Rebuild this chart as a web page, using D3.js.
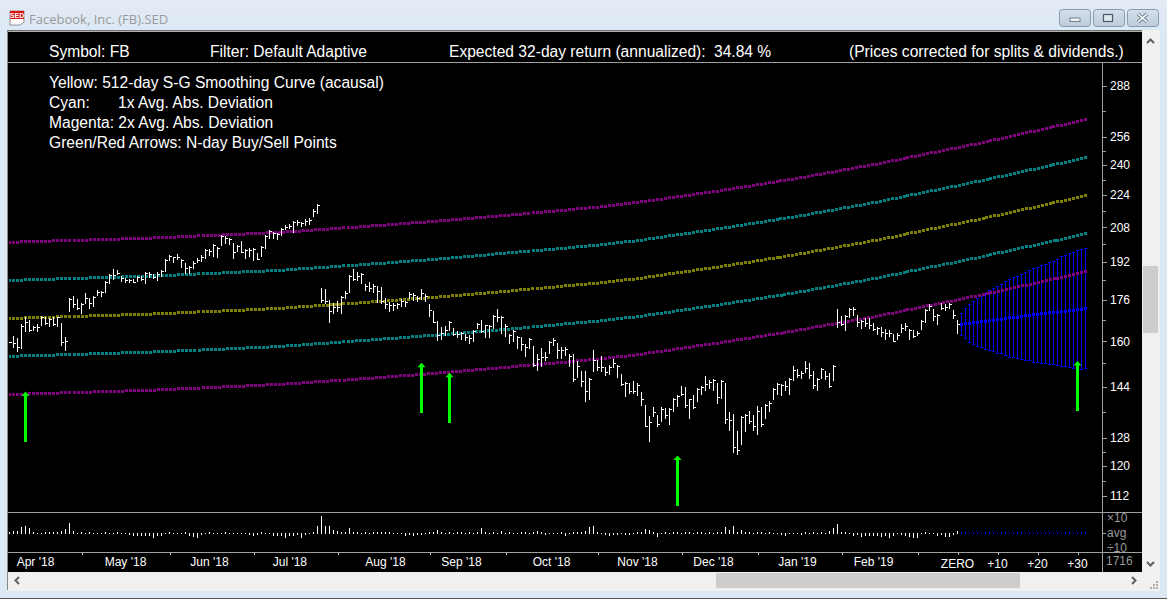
<!DOCTYPE html>
<html><head><meta charset="utf-8">
<script src="https://cdn.jsdelivr.net/npm/d3@7/dist/d3.min.js"></script>
<style>html,body{margin:0;padding:0;background:#dce9f5;overflow:hidden}svg{display:block}text{font-family:"Liberation Sans",Arial,sans-serif}</style>
</head><body><div id="chart"></div>
<script>
const high=[159.8,161.9,161.0,166.4,169.0,168.0,165.8,166.4,169.4,169.0,168.9,169.0,169.3,166.9,161.5,176.9,177.5,176.3,174.6,178.8,176.9,177.5,180.0,179.6,183.8,186.8,188.9,188.4,185.9,185.2,184.8,184.8,186.1,185.8,187.6,187.6,186.8,187.6,188.5,193.4,195.2,194.4,195.6,193.4,191.6,190.3,192.5,193.7,195.2,197.9,197.9,200.2,198.8,204.4,203.9,202.9,200.6,199.7,201.5,197.9,198.3,198.3,196.0,199.2,204.4,206.7,205.8,205.3,207.7,209.1,209.6,211.0,211.5,210.5,212.0,212.5,216.9,219.4,
180.8,180.4,175.9,174.8,175.5,177.6,179.6,186.3,188.9,187.6,187.2,182.5,183.4,182.5,181.7,181.3,176.7,175.1,174.8,174.8,176.3,175.5,179.2,178.8,177.6,180.4,178.4,174.3,171.5,167.6,165.3,165.7,167.6,165.0,163.8,163.4,162.7,162.3,164.2,166.9,168.0,166.1,166.1,169.9,172.3,169.6,166.5,162.7,164.2,161.9,161.5,158.9,161.2,158.2,155.2,157.6,156.1,160.0,161.2,159.3,157.9,157.9,155.2,155.2,152.9,149.4,149.4,147.0,156.8,153.2,154.6,150.8,151.4,153.5,151.4,148.3,145.6,145.3,146.0,145.3,142.4,138.1,134.6,137.4,134.9,
137.5,137.1,137.1,140.3,141.3,144.3,144.0,140.0,141.3,143.6,144.3,147.6,146.3,146.6,145.3,146.3,145.3,135.9,135.3,130.1,134.6,135.3,136.2,135.0,137.8,137.5,138.4,139.4,143.6,145.2,145.0,146.0,147.0,151.1,150.0,149.4,152.9,152.2,149.4,147.0,150.4,149.4,148.7,151.4,
172.3,169.6,169.9,172.7,173.1,169.9,168.0,168.8,168.8,166.9,165.3,165.3,164.6,164.2,162.7,163.1,166.5,166.9,164.6,164.2,163.8,168.0,172.3,174.3,172.3,170.3,174.7,174.3,174.7,171.9,168.0];
const low=[159.5,157.4,156.2,157.3,163.4,163.6,163.9,163.4,165.8,166.1,165.3,165.8,165.3,158.2,156.4,171.3,172.9,172.0,170.4,174.3,172.3,173.1,177.5,177.3,178.9,182.5,184.2,186.4,183.2,182.8,183.0,183.0,183.4,183.8,182.5,185.1,184.6,183.8,185.4,187.6,192.5,191.6,192.9,189.5,186.8,186.9,188.9,191.6,192.0,193.4,194.7,194.3,193.8,199.2,200.2,199.7,193.4,196.5,196.0,193.4,194.3,192.5,192.9,194.3,197.9,202.5,202.5,202.0,203.7,206.7,207.2,205.3,208.6,208.1,208.6,209.1,213.0,214.6,
174.6,174.3,166.9,170.3,171.1,170.3,176.3,178.8,183.8,183.8,182.5,179.6,179.2,178.8,174.7,174.3,172.3,171.1,171.5,172.3,173.1,173.1,176.3,175.5,175.1,175.9,175.1,169.2,166.9,160.0,160.4,161.9,163.8,161.9,161.2,160.4,160.0,158.9,159.7,164.6,163.1,161.2,161.2,164.6,167.2,162.7,161.6,158.9,159.7,157.2,156.4,154.4,157.2,150.6,149.4,150.6,152.9,155.2,158.2,153.6,153.6,154.6,150.6,145.6,147.0,144.0,139.1,139.7,149.0,149.4,149.0,147.7,148.0,150.4,147.0,144.3,140.6,141.6,141.6,140.9,137.8,131.3,126.8,134.3,131.3,
132.8,133.7,131.9,135.9,137.5,141.0,137.1,133.7,136.8,139.1,141.3,142.7,143.3,142.7,138.4,140.0,132.3,130.1,123.7,123.1,126.0,129.8,132.2,130.1,128.8,131.4,133.7,135.9,139.7,141.3,141.0,142.7,141.3,146.0,147.0,146.6,148.7,146.6,143.3,142.7,146.6,146.3,143.6,146.0,
165.1,165.7,163.8,168.8,169.6,165.3,164.6,165.3,164.6,163.8,162.3,161.4,160.4,161.5,159.8,160.4,163.1,163.8,160.4,161.2,161.9,164.2,166.8,171.5,167.6,166.1,171.9,171.6,172.3,168.4,162.7];
const close=[159.6,159.4,158.0,165.7,167.4,164.2,165.3,165.3,169.0,166.7,168.5,166.5,169.0,159.8,160.0,176.4,174.3,172.6,174.3,176.6,174.6,177.1,179.3,179.2,183.3,186.4,186.4,187.4,184.9,184.2,184.2,183.5,185.4,184.8,187.4,186.8,185.6,186.8,188.2,192.9,194.7,194.1,194.4,192.9,189.3,189.7,191.7,192.9,194.4,197.4,197.1,199.5,198.3,203.9,202.9,202.3,196.6,199.2,196.6,197.4,197.4,197.7,193.5,198.6,203.9,206.2,205.1,205.0,207.2,208.3,208.6,210.5,210.7,209.9,211.2,211.5,216.1,218.9,
175.9,175.4,171.5,173.0,173.2,177.0,178.6,185.9,184.5,185.9,186.8,181.7,181.0,181.7,179.7,175.6,174.3,173.8,173.9,174.3,175.4,175.2,178.4,178.0,176.9,178.6,177.6,171.9,167.4,162.3,163.2,164.2,167.2,162.7,162.7,162.9,161.7,161.0,163.9,166.5,163.7,165.9,165.5,169.5,169.3,169.0,165.5,162.3,163.7,161.4,158.9,157.9,160.7,151.4,153.7,154.4,154.2,159.7,160.4,156.6,156.8,157.3,154.8,146.5,151.0,146.1,142.7,146.8,153.2,150.9,150.6,149.1,150.6,152.0,151.0,144.9,145.3,142.5,142.8,144.6,139.9,131.7,132.8,135.9,132.2,
137.0,135.1,136.9,140.0,141.0,141.7,138.1,139.9,137.5,143.2,143.9,144.9,145.8,146.3,140.7,146.0,133.6,133.4,125.4,124.5,134.4,135.0,133.0,131.6,136.2,132.2,138.1,138.8,143.2,144.9,144.7,144.3,146.5,149.7,148.0,148.6,150.3,148.0,144.6,146.5,149.9,147.8,144.4,151.1,
167.2,166.5,169.7,172.2,172.4,167.2,167.6,167.0,166.0,164.5,164.9,163.4,162.9,163.2,160.2,162.4,165.0,165.7,164.2,161.9,162.9,167.6,171.9,173.5,169.6,170.0,172.6,173.2,174.2,169.9,166.5];
const relVolume=[1.1,1.36,1.36,2.5,2.8,2.05,1.17,.86,.9,1.1,1.1,1.1,1.1,1.36,1.85,4.6,1.3,.9,1.1,.9,1.1,.9,.86,.9,1.1,.86,.9,1.1,.86,.9,
.74,.6,.6,.66,.6,.6,.5,.6,.66,.86,1.17,.9,.86,.9,1.1,.6,.54,.5,.77,.9,1.1,.9,.9,.86,1.1,.9,.9,.86,.9,.86,.77,.66,.74,1.1,.9,.86,.66,.6,.66,.5,.6,.66,.74,.5,.74,.86,1.17,2.8,12.9,3.1,3.1,1.5,1.3,1.17,1.17,2.27,1.1,
1.1,.9,1.1,.86,1.1,1.1,1.2,1.1,1.1,.9,.86,.8,.6,.74,.66,.74,.77,.86,1.17,1.17,1.67,1.1,.9,1.1,.9,1.1,1.1,.9,1.1,.9,1.1,2.05,1.1,.9,1.1,.9,1.3,.9,1.2,.9,.9,1.1,1.1,.9,1.1,1.3,1.1,.77,.9,.8,.9,1.1,.66,.9,1.1,1.1,1.17,1.3,2.5,3.1,1.17,.9,.74,.66,.77,.77,.86,.77,.77,.86,1.17,1.2,1.85,1.67,1.2,.54,
.9,1.1,.9,1.1,1.1,.9,1.1,1.1,.9,1.1,1.1,.9,1.1,.9,1.1,1.1,2.5,1.5,2.8,1.17,1.5,1.17,1.1,.9,1.1,1.1,.9,1.1,.9,.86,.77,.6,.9,.86,.86,.74,1.1,.9,1.1,.9,1.1,.9,1.3,2.05,4.2,1.17,1.1,.9,.6,.77,.54,.6,.6,.66,.6,.54,.66,.46,.66,.86,.77,.66,.54,.5,.46,.9,1.1,.9,.86,.6,.77,.54,.54,.77,1.36];
const curveDays=[-237,-200,-170,-150,-130,-110,-90,-80,-60,-40,-20,0,10,20,30,32];
const yellowCurve=[168.6,170.4,172.5,174.7,177.1,179.9,182.9,184.8,189.8,195.4,202.0,209.7,213.8,218.2,222.7,223.6];
const cyanUpper=[184.0,186.0,188.3,190.7,193.3,196.4,199.6,201.7,207.2,213.3,220.5,228.9,233.4,238.2,243.1,244.1];
const cyanLower=[154.5,156.1,158.0,160.1,162.3,164.8,167.6,169.3,173.9,179.0,185.1,192.1,195.9,199.9,204.0,204.9];
const magentaUpper=[200.9,203.0,205.5,208.1,211.0,214.3,217.9,220.2,226.1,232.8,240.7,249.8,254.7,260.0,265.3,266.4];
const magentaLower=[141.5,143.0,144.8,146.6,148.6,151.0,153.5,155.1,159.3,164.0,169.5,176.0,179.4,183.1,186.9,187.7];
const forecastMid=[166.4,166.7,166.8,167.0,167.1,167.4,167.5,167.7,167.9,168.1,168.3,168.5,168.8,168.9,169.1,169.3,169.6,169.7,170.0,170.1,170.4,170.7,170.8,171.0,171.1,171.4,171.5,171.8,171.9,172.2,172.3,172.6];
const forecastTop=[170.7,172.6,174.1,175.5,176.6,177.5,178.6,179.7,180.7,181.4,182.1,183.5,184.5,185.3,185.9,186.7,187.5,188.2,189.1,189.8,190.3,191.1,191.7,192.3,192.9,194.4,195.0,195.6,196.4,197.1,197.7,198.2];
const forecastLow=[162.1,160.8,159.4,158.9,157.9,157.6,157.0,156.6,156.1,155.6,155.4,154.9,154.1,154.0,153.7,153.4,153.1,153.0,152.4,152.4,152.0,151.9,151.7,151.6,151.3,151.0,150.8,150.6,150.3,150.3,149.9,150.3];
const forecastVolume=[1.1,1.1,.9,1.1,1.1,.9,1.1,1.1,1.1,.9,1.1,1.1,.9,1.1,1.1,1.1,.9,1.1,.9,1.1,.9,1.1,1.1,.9,1.1,.9,1.1,1.1,.9,1.1,1.1,1.1];
const arrowDays=[-233,-134,-127,-70,30];
const arrowTips=[142.3,152.1,148.6,122.8,152.7];
const arrowTails=[126.8,135.7,132.6,109.5,136.2];
const majorPrices=[288,256,240,224,208,192,176,160,144,128,120,112];
const minorPrices=[272,248,232,216,200,184,168,152,136,124,116];
const monthTickDays=[-219,-197,-176,-155,-132,-113,-90,-69,-50,-29,-10];
const monthLabels=["Apr '18","May '18","Jun '18","Jul '18","Aug '18","Sep '18","Oct '18","Nov '18","Dec '18","Jan '19","Feb '19"];
const monthLabelDays=[-230.5,-208,-187,-166.9,-143,-124,-101.5,-80,-61,-40,-21];
const futureTickDays=[0,10,20,30];
const futureLabels=["ZERO","+10","+20","+30"];

const W=1167,H=599;
const svg=d3.select("#chart").append("svg").attr("width",W).attr("height",H);
const x=d3.scaleLinear().domain([-237,32]).range([9.5,1085.5]);
const y=d3.scaleLog().domain([288,112]).range([86,496]);
const yv=d3.scaleLog().domain([10,0.1]).range([518,548]);
const cr="crispEdges";

// window chrome
const defs=svg.append("defs");
const g1=defs.append("linearGradient").attr("id","tb").attr("x1",0).attr("x2",0).attr("y1",0).attr("y2",1);
g1.append("stop").attr("offset",0).attr("stop-color","#e4ebf3");
g1.append("stop").attr("offset",1).attr("stop-color","#dbe8f6");
const g2=defs.append("linearGradient").attr("id","btn").attr("x1",0).attr("x2",0).attr("y1",0).attr("y2",1);
g2.append("stop").attr("offset",0).attr("stop-color","#d5dfeb");
g2.append("stop").attr("offset",1).attr("stop-color","#bccbdc");
svg.append("rect").attr("width",W).attr("height",H).attr("fill","#dce9f5");
svg.append("rect").attr("width",W).attr("height",31).attr("fill","url(#tb)");
svg.append("rect").attr("x",0).attr("y",598).attr("width",W).attr("height",1).attr("fill","#555");
svg.append("rect").attr("x",7).attr("y",30).attr("width",1153).attr("height",561).attr("fill","#f0f0f0");
svg.append("rect").attr("x",7).attr("y",30).attr("width",1).attr("height",560).attr("fill","#8a8a8a");
svg.append("rect").attr("x",7).attr("y",30).attr("width",1135).attr("height",1.5).attr("fill","#707070");
// title icon
svg.append("path").attr("d","M10 11H24V22L20 25H10Z").attr("fill","#fff").attr("stroke","#555").attr("stroke-width",.6);
svg.append("rect").attr("x",10).attr("y",11).attr("width",14).attr("height",8).attr("fill","#e01010");
svg.append("text").attr("x",17).attr("y",18).attr("text-anchor","middle").attr("font-size",7).attr("font-weight","bold").attr("fill","#fff").text("SED");
svg.append("text").attr("x",29).attr("y",24).attr("font-size",13).attr("fill","#9a9a9a").style("font-family","'Open Sans'").text("Facebook, Inc. (FB).SED");
// window buttons
[[1059.5,31],[1093.5,31],[1127.5,31]].forEach(b=>svg.append("rect").attr("x",b[0]).attr("y",9.5).attr("width",b[1]).attr("height",17).attr("rx",3).attr("fill","url(#btn)").attr("stroke","#8a9aae"));
svg.append("rect").attr("x",1070).attr("y",18).attr("width",10).attr("height",3.5).attr("fill","#eef2f7").attr("stroke","#5a6676").attr("stroke-width",.8);
svg.append("rect").attr("x",1103.5).attr("y",14.5).attr("width",9).attr("height",7).attr("fill","#dfe7f0").attr("stroke","#4a5666").attr("stroke-width",1.2);
svg.append("path").attr("d","M1138 14L1147 22M1147 14L1138 22").attr("stroke","#5a6676").attr("stroke-width",3.4);
svg.append("path").attr("d","M1138 14L1147 22M1147 14L1138 22").attr("stroke","#eef2f7").attr("stroke-width",1.8);

// plot background
svg.append("rect").attr("x",8).attr("y",32).attr("width",1134).attr("height",540).attr("fill","#000");
// scroll bars
svg.append("rect").attr("x",1143).attr("y",266).attr("width",15).attr("height",67).attr("fill","#cdcdcd");
svg.append("rect").attr("x",716).attr("y",573).attr("width",304).attr("height",15).attr("fill","#cdcdcd");
const ch=(d)=>svg.append("path").attr("d",d).attr("fill","none").attr("stroke","#606060").attr("stroke-width",2);
ch("M1147 43L1150.5 39.5L1154 43");ch("M1147 562L1150.5 565.5L1154 562");ch("M19 577L15.5 580.5L19 584");ch("M1132 577L1135.5 580.5L1132 584");
[[1156,587],[1153,587],[1150,587],[1156,584],[1153,584],[1156,581]].forEach(p=>svg.append("rect").attr("x",p[0]).attr("y",p[1]).attr("width",2).attr("height",2).attr("fill","#b0b0b0"));

// rules
const rule="#a0a0a0";
[[8,62,1142,62],[8,512.5,1142,512.5],[8,552,1142,552]].forEach(l=>svg.append("line").attr("x1",l[0]).attr("x2",l[2]).attr("y1",Math.floor(l[1])+.5).attr("y2",Math.floor(l[1])+.5).attr("stroke",rule).attr("shape-rendering",cr));
svg.append("line").attr("x1",1102.5).attr("x2",1102.5).attr("y1",62).attr("y2",572).attr("stroke",rule).attr("shape-rendering",cr);

// header text
const hdr=(tx,ty,s)=>svg.append("text").attr("x",tx).attr("y",ty).attr("font-size",15.6).attr("fill","#fff").text(s);
hdr(49,57,"Symbol: FB");hdr(210,57,"Filter: Default Adaptive");hdr(449,57,"Expected 32-day return (annualized):");hdr(714,57,"34.84 %");hdr(849,57,"(Prices corrected for splits & dividends.)");
hdr(49,87.5,"Yellow: 512-day S-G Smoothing Curve (acausal)");
hdr(49,107.5,"Cyan:");hdr(118,107.5,"1x Avg. Abs. Deviation");
hdr(49,127.5,"Magenta: 2x Avg. Abs. Deviation");
hdr(49,147.5,"Green/Red Arrows: N-day Buy/Sell Points");

// price axis
const axisMaj=d3.axisRight(y).tickValues(majorPrices).tickFormat(d3.format("d")).tickSize(4).tickPadding(3);
const ga=svg.append("g").attr("transform","translate(1103,0)").call(axisMaj);
ga.select(".domain").remove();
ga.selectAll("line").attr("stroke",rule).attr("shape-rendering",cr);
ga.selectAll("text").attr("fill","#fff").attr("font-size",12).style("font-family","'Liberation Sans'");
const axisMin=d3.axisRight(y).tickValues(minorPrices).tickFormat("").tickSize(3);
const gm=svg.append("g").attr("transform","translate(1103,0)").call(axisMin);
gm.select(".domain").remove();
gm.selectAll("line").attr("stroke",rule).attr("shape-rendering",cr);

// forecast whiskers (behind bands)
const days=forecastMid.map((_,i)=>i+1);
const gw=svg.append("g").attr("stroke","#0000ff").attr("shape-rendering",cr);
days.forEach((d,i)=>{
  const px=x(d);
  gw.append("line").attr("x1",px).attr("x2",px).attr("y1",y(forecastTop[i])).attr("y2",y(forecastLow[i]));
  gw.append("line").attr("x1",px-1.5).attr("x2",px+1.5).attr("y1",y(forecastTop[i])).attr("y2",y(forecastTop[i]));
  gw.append("line").attr("x1",px-1.5).attr("x2",px+1.5).attr("y1",y(forecastLow[i])).attr("y2",y(forecastLow[i]));
});

// dotted trend bands: one 3px square per day along each curve
const line=d3.line().x((d,i)=>x(curveDays[i])).y(d=>y(d));
[[magentaUpper,"#800080"],[cyanUpper,"#008080"],[yellowCurve,"#808000"],[cyanLower,"#008080"],[magentaLower,"#800080"]].forEach(s=>{
  const p=svg.append("path").datum(s[0]).attr("d",line).attr("fill","none").attr("stroke","none");
  const node=p.node(),len=node.getTotalLength(),n=32+237;
  const g=svg.append("g").attr("fill",s[1]).attr("shape-rendering",cr);
  for(let i=0;i<=n;i++){
    const pt=node.getPointAtLength(len*i/n);
    g.append("rect").attr("x",Math.round(pt.x-1.5)+(i===0?1:0)).attr("y",Math.round(pt.y-1.5)).attr("width",i===0?2:3).attr("height",3);
  }
});

// price bars
const gb=svg.append("g").attr("stroke","#fff").attr("shape-rendering",cr);
high.forEach((h,i)=>{
  const d=i-237,px=x(d);
  gb.append("line").attr("x1",px).attr("x2",px).attr("y1",y(h)).attr("y2",y(low[i]));
  gb.append("line").attr("x1",px).attr("x2",px+2).attr("y1",Math.round(y(close[i]))+.5).attr("y2",Math.round(y(close[i]))+.5);
});

// forecast centre
svg.append("g").selectAll("rect").data(forecastMid).join("rect").attr("x",(d,i)=>x(i+1)-1.5).attr("y",d=>Math.round(y(d)-1.5)).attr("width",3).attr("height",3).attr("fill","#0000ff").attr("shape-rendering",cr);

// arrows
arrowDays.forEach((d,i)=>{
  const px=x(d),t=y(arrowTips[i]),b=y(arrowTails[i]);
  svg.append("rect").attr("x",px-1.5).attr("y",t+1).attr("width",3).attr("height",b-t-1).attr("fill","#00ff00").attr("shape-rendering",cr);
  svg.append("path").attr("d",`M${px} ${t-.5}L${px+4} ${t+4}L${px-4} ${t+4}Z`).attr("fill","#00ff00");
});

// volume
const gv=svg.append("g").attr("stroke","#fff").attr("shape-rendering",cr);
relVolume.forEach((v,i)=>{
  const px=x(i-237);
  gv.append("line").attr("x1",px).attr("x2",px).attr("y1",Math.min(yv(v),533)).attr("y2",Math.max(yv(v),534));
});
const gv2=svg.append("g").attr("stroke","#0000ff").attr("shape-rendering",cr);
forecastVolume.forEach((v,i)=>{
  const px=x(i+1);
  gv2.append("line").attr("x1",px).attr("x2",px).attr("y1",Math.min(yv(v),533)).attr("y2",Math.max(yv(v),534));
});
const vlab=[["×10",518],["avg",533],["÷10",548]];
vlab.forEach(l=>svg.append("text").attr("x",1107).attr("y",l[1]+4).attr("font-size",12).attr("fill","#9a9a9a").text(l[0]));
svg.append("line").attr("x1",1103).attr("x2",1106).attr("y1",533.5).attr("y2",533.5).attr("stroke",rule).attr("shape-rendering",cr);
svg.append("text").attr("x",1106).attr("y",565).attr("font-size",12).attr("fill","#9a9a9a").text("1716");

// date axis
const axisDate=d3.axisBottom(x).tickValues(monthTickDays.concat(futureTickDays)).tickFormat("").tickSize(3);
const gd=svg.append("g").attr("transform","translate(0,552)").call(axisDate);
gd.select(".domain").remove();
gd.selectAll("line").attr("stroke","#c0c0c0").attr("shape-rendering",cr);
monthLabels.forEach((s,i)=>svg.append("text").attr("x",x(monthLabelDays[i])).attr("y",566).attr("text-anchor","middle").attr("font-size",12).attr("fill","#fff").text(s));
futureLabels.forEach((s,i)=>svg.append("text").attr("x",x(futureTickDays[i])).attr("y",568).attr("text-anchor","middle").attr("font-size",12).attr("fill","#fff").text(s));
</script></body></html>
